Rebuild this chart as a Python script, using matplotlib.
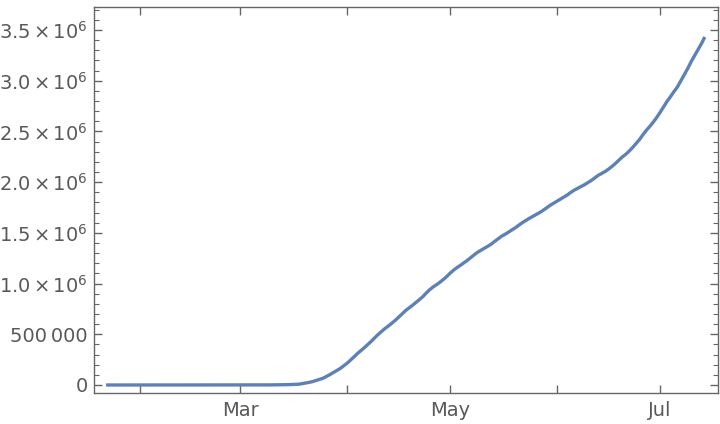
import numpy as np
import pandas as pd
import matplotlib
matplotlib.use("Agg")
import matplotlib.pyplot as plt
import matplotlib.dates as mdates
from matplotlib.ticker import FixedLocator, MultipleLocator

# cumulative confirmed cases, daily from 2020-01-22
start_date = "2020-01-22"
jan = [1, 1, 2, 2, 5, 5, 5, 6, 6, 8]
feb = [8, 8, 11, 11, 12, 12, 12, 12, 12, 12, 13, 13, 14, 14, 14, 14, 14, 14,
       14, 14, 16, 16, 16, 51, 51, 57, 58, 60, 68]
mar = [74, 98, 118, 149, 217, 262, 402, 518, 583, 959, 1281, 1663, 2179, 2727,
       3499, 4632, 6421, 7783, 13747, 19273, 25600, 33276, 43847, 53740, 65778,
       83836, 101657, 121465, 140909, 161831, 188172]
apr = [213242, 243622, 275367, 308650, 336802, 366317, 397121, 428654, 462780,
       496535, 526396, 555313, 580619, 607670, 636350, 667592, 699706, 732197,
       759086, 784326, 811865, 840351, 869170, 905358, 938154, 965785, 988197,
       1012582, 1039909, 1069424]
may = [1103461, 1132539, 1158040, 1180375, 1204351, 1229331, 1257023, 1283929,
       1309550, 1329260, 1347881, 1369376, 1390406, 1417774, 1442824, 1467820,
       1486757, 1508308, 1528568, 1551853, 1577147, 1600937, 1622612, 1643246,
       1662302, 1680913, 1699933, 1721750, 1746019, 1770165, 1790191]
jun = [1811360, 1831821, 1851520, 1872660, 1897838, 1920061, 1938823, 1956421,
       1973797, 1994283, 2016027, 2041068, 2066508, 2085769, 2104346, 2127742,
       2154294, 2182950, 2215618, 2248029, 2273745, 2305250, 2340732, 2379119,
       2419091, 2466409, 2510323, 2549069, 2590668, 2636538]
jul = [2687588, 2742049, 2795163, 2841241, 2891124, 2936077, 2996098, 3054699,
       3117946, 3185737, 3245925, 3304942, 3364157, 3431574]

cases = np.array(jan + feb + mar + apr + may + jun + jul)
dates = pd.date_range(start_date, periods=len(cases), freq="D")

month_ticks = ["2020-02-01", "2020-03-01", "2020-04-01", "2020-05-01",
               "2020-06-01", "2020-07-01"]
month_labels = ["", "Mar", "", "May", "", "Jul"]

y_ticks = [0, 500000, 1000000, 1500000, 2000000, 2500000, 3000000, 3500000]
y_mantissas = ["1.0", "1.5", "2.0", "2.5", "3.0", "3.5"]
y_labels = ["0", "500\u2009000"] + [
    r"$\mathregular{%s\,{\times}\,10^{6}}$" % m for m in y_mantissas]

frame_color = "#666666"
text_color = "#595959"
line_color = "#5e81b5"

fig = plt.figure(figsize=(7.2, 4.24), dpi=100)
ax = fig.add_axes([0.1306, 0.0731, 0.8666, 0.9104])

ax.plot(dates, cases, color=line_color, lw=2.4, solid_capstyle="butt")

ax.set_xlim(pd.Timestamp("2020-01-18 12:00"), pd.Timestamp("2020-07-17 20:00"))
ax.set_ylim(-79000, 3727000)

ax.xaxis.set_major_locator(FixedLocator(mdates.date2num(pd.to_datetime(month_ticks))))
ax.set_xticklabels(month_labels)
ax.set_yticks(y_ticks)
ax.set_yticklabels(y_labels)
ax.yaxis.set_minor_locator(MultipleLocator(100000))

for s in ax.spines.values():
    s.set_color(frame_color)
    s.set_linewidth(1.0)

ax.tick_params(which="both", direction="in", top=True, right=True,
               color=frame_color, labelcolor=text_color, labelsize=14)
ax.tick_params(which="major", length=6, width=1.0)
ax.tick_params(which="minor", length=3.5, width=0.8)
ax.tick_params(axis="x", pad=6)
ax.tick_params(axis="y", pad=4.5)

fig.savefig("out.png", dpi=100)
